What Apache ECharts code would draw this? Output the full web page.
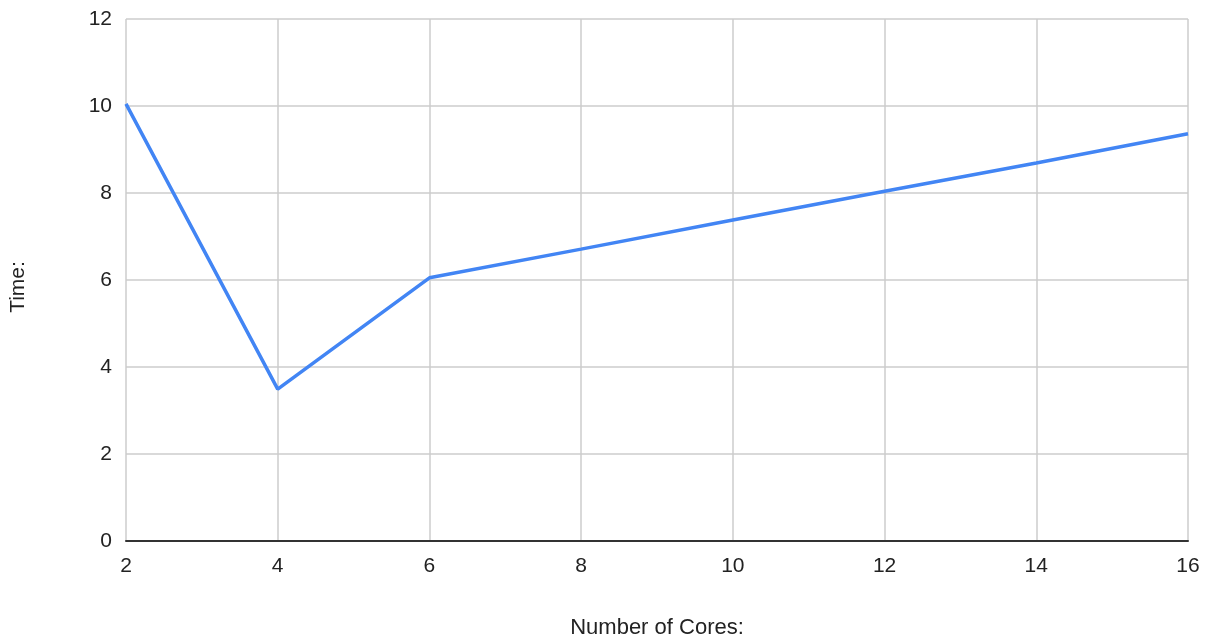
<!DOCTYPE html>
<html>
<head>
<meta charset="utf-8">
<script src="https://cdn.jsdelivr.net/npm/echarts@6/dist/echarts.min.js"></script>
<style>html,body{margin:0;padding:0;background:#fff}#c{width:1214px;height:642px}</style>
</head>
<body>
<div id="c"></div>
<script>
const cores = [2, 4, 6, 8, 10, 12, 14, 16];
const times = [10.05, 3.49, 6.05, 6.71, 7.38, 8.04, 8.69, 9.36];
const xName = 'Number of Cores:';
const yName = 'Time:';

const chart = echarts.init(document.getElementById('c'), null, {renderer: 'canvas'});
const font = 'Liberation Sans, Arial, sans-serif';
chart.setOption({
  animation: false,
  grid: {left: 126, right: 26, top: 19, bottom: 101, containLabel: false, outerBoundsMode: 'none'},
  xAxis: {
    type: 'value', min: 2, max: 16, interval: 2,
    name: xName, nameLocation: 'middle', nameGap: 76,
    nameTextStyle: {fontFamily: font, fontSize: 22, color: '#222'},
    axisLine: {lineStyle: {color: '#333', width: 2}},
    axisTick: {show: false},
    axisLabel: {fontFamily: font, fontSize: 21, color: '#222', margin: 15},
    splitLine: {show: true, lineStyle: {color: '#cccccc', width: 1.5}}
  },
  yAxis: {
    type: 'value', min: 0, max: 12, interval: 2,
    name: yName, nameLocation: 'middle', nameGap: 97,
    nameTextStyle: {fontFamily: font, fontSize: 21, color: '#222', padding: [0, 14, 0, 0]},
    axisLine: {show: false},
    axisTick: {show: false},
    axisLabel: {fontFamily: font, fontSize: 21, color: '#222', margin: 14},
    splitLine: {lineStyle: {color: '#cccccc', width: 1.5}}
  },
  series: [{
    type: 'line',
    data: cores.map((c, i) => [c, times[i]]),
    showSymbol: false,
    lineStyle: {color: '#4285F4', width: 3.5},
    itemStyle: {color: '#4285F4'}
  }]
});
</script>
</body>
</html>
